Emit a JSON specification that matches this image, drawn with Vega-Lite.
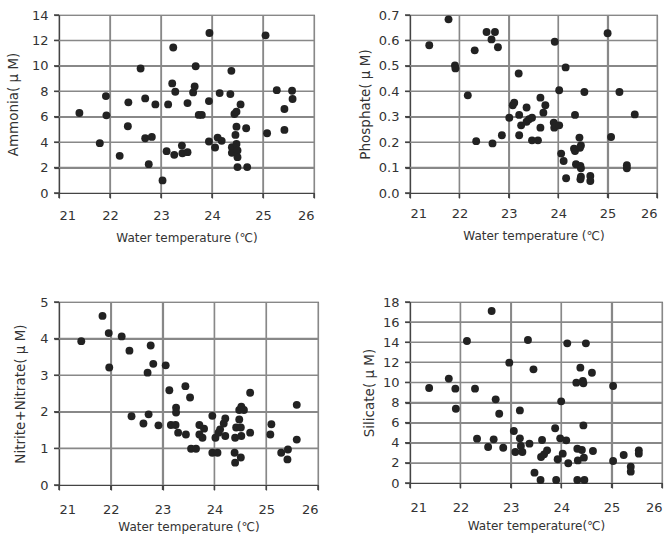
{
  "$schema": "https://vega.github.io/schema/vega-lite/v6.json",
  "background": "white",
  "padding": {"left": 6, "top": 8, "right": 5, "bottom": 5},
  "config": {
    "font": "DejaVu Sans",
    "view": {"stroke": "#444", "strokeWidth": 1.2},
    "axis": {
      "labelColor": "#333", "titleColor": "#333", "labelFontSize": 13, "titleFontSize": 12,
      "titleFontWeight": "normal", "tickSize": 5, "grid": true, "gridColor": "#888", "gridWidth": 1.2, "gridOpacity": 1,
      "tickColor": "#444", "tickWidth": 1.2, "domainColor": "#444", "domainWidth": 1.2
    },
    "axisX": {"labelPadding": 11, "titlePadding": 10, "titleFontSize": 12},
    "axisY": {"labelPadding": 6, "titleFontSize": 13.5},
    "point": {"filled": true, "color": "#222", "opacity": 1, "size": 62}
  },
  "datasets": {
    "xg": [{"g": 22}, {"g": 23}, {"g": 24}, {"g": 25}],
    "xt": [{"g": 21}, {"g": 22}, {"g": 23}, {"g": 24}, {"g": 25}, {"g": 26}],
    "ag": [{"g": 2}, {"g": 4}, {"g": 6}, {"g": 8}, {"g": 10}, {"g": 12}],
    "at": [{"g": 0}, {"g": 2}, {"g": 4}, {"g": 6}, {"g": 8}, {"g": 10}, {"g": 12}, {"g": 14}],
    "pg": [{"g": 0.1}, {"g": 0.2}, {"g": 0.3}, {"g": 0.4}, {"g": 0.5}, {"g": 0.6}],
    "pt": [{"g": 0}, {"g": 0.1}, {"g": 0.2}, {"g": 0.3}, {"g": 0.4}, {"g": 0.5}, {"g": 0.6}, {"g": 0.7}],
    "ng": [{"g": 1}, {"g": 2}, {"g": 3}, {"g": 4}],
    "nt": [{"g": 0}, {"g": 1}, {"g": 2}, {"g": 3}, {"g": 4}, {"g": 5}],
    "sg": [{"g": 2}, {"g": 4}, {"g": 6}, {"g": 8}, {"g": 10}, {"g": 12}, {"g": 14}, {"g": 16}],
    "st": [{"g": 0}, {"g": 2}, {"g": 4}, {"g": 6}, {"g": 8}, {"g": 10}, {"g": 12}, {"g": 14}, {"g": 16}, {"g": 18}],
    "ammonia": [
      {"t": 21.40, "v": 6.29}, {"t": 21.80, "v": 3.92}, {"t": 21.92, "v": 7.62}, {"t": 21.93, "v": 6.11},
      {"t": 22.19, "v": 2.92}, {"t": 22.35, "v": 5.25}, {"t": 22.36, "v": 7.13}, {"t": 22.60, "v": 9.79},
      {"t": 22.69, "v": 4.31}, {"t": 22.69, "v": 7.44}, {"t": 22.76, "v": 2.27}, {"t": 22.82, "v": 4.41},
      {"t": 22.89, "v": 6.97}, {"t": 23.03, "v": 0.99}, {"t": 23.11, "v": 3.29}, {"t": 23.14, "v": 6.97},
      {"t": 23.22, "v": 8.62}, {"t": 23.24, "v": 11.44}, {"t": 23.26, "v": 3.00}, {"t": 23.28, "v": 7.96},
      {"t": 23.41, "v": 3.73}, {"t": 23.42, "v": 3.13}, {"t": 23.52, "v": 7.07}, {"t": 23.52, "v": 3.21},
      {"t": 23.63, "v": 7.91}, {"t": 23.66, "v": 8.38}, {"t": 23.68, "v": 9.97}, {"t": 23.74, "v": 6.14},
      {"t": 23.80, "v": 6.14}, {"t": 23.94, "v": 7.23}, {"t": 23.95, "v": 12.58}, {"t": 23.94, "v": 4.05},
      {"t": 24.06, "v": 3.58}, {"t": 24.11, "v": 4.36}, {"t": 24.15, "v": 7.86}, {"t": 24.19, "v": 4.10},
      {"t": 24.36, "v": 7.78}, {"t": 24.38, "v": 9.61}, {"t": 24.39, "v": 3.60}, {"t": 24.39, "v": 3.16},
      {"t": 24.44, "v": 6.21}, {"t": 24.46, "v": 4.57}, {"t": 24.48, "v": 5.22}, {"t": 24.48, "v": 6.40},
      {"t": 24.48, "v": 3.86}, {"t": 24.50, "v": 3.34}, {"t": 24.50, "v": 2.82}, {"t": 24.50, "v": 2.04},
      {"t": 24.56, "v": 6.97}, {"t": 24.67, "v": 5.09}, {"t": 24.69, "v": 2.04}, {"t": 25.05, "v": 12.40},
      {"t": 25.08, "v": 4.70}, {"t": 25.27, "v": 8.09}, {"t": 25.42, "v": 6.61}, {"t": 25.42, "v": 4.96},
      {"t": 25.57, "v": 8.04}, {"t": 25.58, "v": 7.39}
    ],
    "phosphate": [
      {"t": 21.39, "v": 0.581}, {"t": 21.78, "v": 0.683}, {"t": 21.91, "v": 0.502}, {"t": 21.92, "v": 0.49},
      {"t": 22.17, "v": 0.384}, {"t": 22.31, "v": 0.561}, {"t": 22.34, "v": 0.204}, {"t": 22.55, "v": 0.633},
      {"t": 22.65, "v": 0.604}, {"t": 22.67, "v": 0.195}, {"t": 22.72, "v": 0.633}, {"t": 22.78, "v": 0.573},
      {"t": 22.86, "v": 0.227}, {"t": 23.01, "v": 0.296}, {"t": 23.08, "v": 0.345}, {"t": 23.11, "v": 0.355},
      {"t": 23.20, "v": 0.47}, {"t": 23.21, "v": 0.307}, {"t": 23.21, "v": 0.227}, {"t": 23.25, "v": 0.266},
      {"t": 23.36, "v": 0.336}, {"t": 23.36, "v": 0.280}, {"t": 23.41, "v": 0.290}, {"t": 23.47, "v": 0.296},
      {"t": 23.47, "v": 0.207}, {"t": 23.59, "v": 0.207}, {"t": 23.64, "v": 0.375}, {"t": 23.64, "v": 0.257},
      {"t": 23.70, "v": 0.316}, {"t": 23.74, "v": 0.345}, {"t": 23.93, "v": 0.595}, {"t": 23.91, "v": 0.277},
      {"t": 23.92, "v": 0.257}, {"t": 23.95, "v": 0.266}, {"t": 24.02, "v": 0.266}, {"t": 24.02, "v": 0.404},
      {"t": 24.06, "v": 0.155}, {"t": 24.11, "v": 0.126}, {"t": 24.15, "v": 0.494}, {"t": 24.16, "v": 0.058},
      {"t": 24.34, "v": 0.307}, {"t": 24.32, "v": 0.174}, {"t": 24.34, "v": 0.165}, {"t": 24.36, "v": 0.113},
      {"t": 24.43, "v": 0.218}, {"t": 24.44, "v": 0.178}, {"t": 24.46, "v": 0.187}, {"t": 24.45, "v": 0.106},
      {"t": 24.46, "v": 0.097}, {"t": 24.46, "v": 0.064}, {"t": 24.45, "v": 0.054}, {"t": 24.53, "v": 0.397},
      {"t": 24.65, "v": 0.067}, {"t": 24.65, "v": 0.047}, {"t": 25.00, "v": 0.628}, {"t": 25.07, "v": 0.220},
      {"t": 25.24, "v": 0.397}, {"t": 25.39, "v": 0.109}, {"t": 25.39, "v": 0.097}, {"t": 25.55, "v": 0.309}
    ],
    "nitrate": [
      {"t": 21.43, "v": 3.93}, {"t": 21.84, "v": 4.62}, {"t": 21.96, "v": 4.15}, {"t": 21.97, "v": 3.21},
      {"t": 22.21, "v": 4.06}, {"t": 22.36, "v": 3.67}, {"t": 22.40, "v": 1.88}, {"t": 22.63, "v": 1.68},
      {"t": 22.71, "v": 3.07}, {"t": 22.73, "v": 1.93}, {"t": 22.77, "v": 3.81}, {"t": 22.82, "v": 3.31},
      {"t": 22.92, "v": 1.63}, {"t": 23.06, "v": 3.27}, {"t": 23.13, "v": 2.59}, {"t": 23.16, "v": 1.64},
      {"t": 23.25, "v": 1.64}, {"t": 23.26, "v": 2.11}, {"t": 23.26, "v": 1.98}, {"t": 23.30, "v": 1.43},
      {"t": 23.44, "v": 2.70}, {"t": 23.45, "v": 1.38}, {"t": 23.53, "v": 2.39}, {"t": 23.55, "v": 0.99},
      {"t": 23.645, "v": 0.99}, {"t": 23.71, "v": 1.64}, {"t": 23.71, "v": 1.38}, {"t": 23.77, "v": 1.29},
      {"t": 23.80, "v": 1.54}, {"t": 23.96, "v": 1.89}, {"t": 23.96, "v": 0.88}, {"t": 24.06, "v": 0.88},
      {"t": 24.02, "v": 1.29}, {"t": 24.08, "v": 1.43}, {"t": 24.11, "v": 1.52}, {"t": 24.18, "v": 1.68},
      {"t": 24.21, "v": 1.82}, {"t": 24.21, "v": 1.34}, {"t": 24.39, "v": 0.88}, {"t": 24.40, "v": 0.61},
      {"t": 24.40, "v": 1.29}, {"t": 24.42, "v": 1.57}, {"t": 24.48, "v": 1.79}, {"t": 24.48, "v": 2.05},
      {"t": 24.51, "v": 1.57}, {"t": 24.51, "v": 0.75}, {"t": 24.52, "v": 2.14}, {"t": 24.52, "v": 1.34},
      {"t": 24.57, "v": 2.05}, {"t": 24.69, "v": 1.43}, {"t": 24.69, "v": 2.52}, {"t": 25.10, "v": 1.66},
      {"t": 25.08, "v": 1.38}, {"t": 25.29, "v": 0.88}, {"t": 25.42, "v": 0.97}, {"t": 25.41, "v": 0.70},
      {"t": 25.59, "v": 2.19}, {"t": 25.59, "v": 1.24}
    ],
    "silicate": [
      {"t": 21.38, "v": 9.45}, {"t": 21.77, "v": 10.38}, {"t": 21.90, "v": 9.38}, {"t": 21.91, "v": 7.39},
      {"t": 22.13, "v": 14.12}, {"t": 22.29, "v": 9.38}, {"t": 22.33, "v": 4.41}, {"t": 22.55, "v": 3.58},
      {"t": 22.62, "v": 17.10}, {"t": 22.66, "v": 4.34}, {"t": 22.70, "v": 8.32}, {"t": 22.77, "v": 6.89},
      {"t": 22.85, "v": 3.51}, {"t": 22.97, "v": 11.97}, {"t": 23.06, "v": 5.17}, {"t": 23.09, "v": 3.08},
      {"t": 23.18, "v": 7.22}, {"t": 23.18, "v": 4.44}, {"t": 23.20, "v": 3.68}, {"t": 23.23, "v": 3.08},
      {"t": 23.34, "v": 14.22}, {"t": 23.37, "v": 3.91}, {"t": 23.45, "v": 11.30}, {"t": 23.47, "v": 1.03},
      {"t": 23.59, "v": 0.30}, {"t": 23.62, "v": 4.28}, {"t": 23.60, "v": 2.59}, {"t": 23.66, "v": 2.85},
      {"t": 23.72, "v": 3.25}, {"t": 23.88, "v": 5.44}, {"t": 23.90, "v": 0.30}, {"t": 23.93, "v": 2.36},
      {"t": 23.98, "v": 4.44}, {"t": 24.00, "v": 8.12}, {"t": 24.03, "v": 2.92}, {"t": 24.10, "v": 4.24},
      {"t": 24.12, "v": 13.89}, {"t": 24.14, "v": 1.96}, {"t": 24.30, "v": 9.98}, {"t": 24.32, "v": 3.41},
      {"t": 24.32, "v": 0.30}, {"t": 24.33, "v": 2.25}, {"t": 24.38, "v": 11.47}, {"t": 24.41, "v": 3.28},
      {"t": 24.43, "v": 10.14}, {"t": 24.44, "v": 9.91}, {"t": 24.44, "v": 5.73}, {"t": 24.45, "v": 2.52},
      {"t": 24.46, "v": 0.30}, {"t": 24.49, "v": 13.89}, {"t": 24.63, "v": 3.18}, {"t": 24.61, "v": 10.97},
      {"t": 25.03, "v": 9.65}, {"t": 25.03, "v": 2.19}, {"t": 25.24, "v": 2.78}, {"t": 25.38, "v": 1.62},
      {"t": 25.38, "v": 1.13}, {"t": 25.54, "v": 3.25}, {"t": 25.54, "v": 2.92}
    ]
  },
  "spacing": 51,
  "vconcat": [
    {
      "bounds": "flush",
      "spacing": 96,
      "hconcat": [
        {
          "width": 255, "height": 178,
          "layer": [
            {"data": {"name": "xg"}, "mark": {"type": "point", "shape": "M-0.0084,-1H0.0084V1H-0.0084Z", "size": 31684, "filled": true, "color": "#888"},
             "encoding": {
               "x": {"field": "g", "type": "quantitative", "scale": {"domain": [21, 26], "nice": false, "zero": false}, "axis": {"values": [21, 22, 23, 24, 25, 26], "title": "Water temperature (℃)"}},
               "y": {"datum": 7, "type": "quantitative", "scale": {"domain": [0, 14], "nice": false}, "axis": {"values": [0, 2, 4, 6, 8, 10, 12, 14], "title": "Ammonia( μ M)", "titlePadding": 10.5}}}},
            {"data": {"name": "ag"}, "mark": {"type": "point", "shape": "M-1,-0.006H1V0.006H-1Z", "size": 65025, "filled": true, "color": "#888"},
             "encoding": {
               "x": {"datum": 23.5, "type": "quantitative", "scale": {"domain": [21, 26], "nice": false, "zero": false}, "axis": {"values": [21, 22, 23, 24, 25, 26], "title": "Water temperature (℃)"}},
               "y": {"field": "g", "type": "quantitative", "scale": {"domain": [0, 14], "nice": false}, "axis": {"values": [0, 2, 4, 6, 8, 10, 12, 14], "title": "Ammonia( μ M)", "titlePadding": 10.5}}}},
            {"data": {"name": "xt"}, "mark": {"type": "point", "shape": "M-0.15,0H0.15V1H-0.15Z", "size": 100, "filled": true, "color": "#444"},
             "encoding": {
               "x": {"field": "g", "type": "quantitative", "scale": {"domain": [21, 26], "nice": false, "zero": false}, "axis": {"values": [21, 22, 23, 24, 25, 26], "title": "Water temperature (℃)"}},
               "y": {"datum": 0, "type": "quantitative", "scale": {"domain": [0, 14], "nice": false}, "axis": {"values": [0, 2, 4, 6, 8, 10, 12, 14], "title": "Ammonia( μ M)", "titlePadding": 10.5}}}},
            {"data": {"name": "at"}, "mark": {"type": "point", "shape": "M-1,-0.15H0V0.15H-1Z", "size": 100, "filled": true, "color": "#444"},
             "encoding": {
               "x": {"datum": 21, "type": "quantitative", "scale": {"domain": [21, 26], "nice": false, "zero": false}, "axis": {"values": [21, 22, 23, 24, 25, 26], "title": "Water temperature (℃)"}},
               "y": {"field": "g", "type": "quantitative", "scale": {"domain": [0, 14], "nice": false}, "axis": {"values": [0, 2, 4, 6, 8, 10, 12, 14], "title": "Ammonia( μ M)", "titlePadding": 10.5}}}},
            {"data": {"name": "ammonia"}, "mark": {"type": "point"},
             "encoding": {
               "x": {"field": "t", "type": "quantitative", "scale": {"domain": [21, 26], "nice": false, "zero": false}, "axis": {"values": [21, 22, 23, 24, 25, 26], "title": "Water temperature (℃)"}},
               "y": {"field": "v", "type": "quantitative", "scale": {"domain": [0, 14], "nice": false}, "axis": {"values": [0, 2, 4, 6, 8, 10, 12, 14], "title": "Ammonia( μ M)", "titlePadding": 10.5}}}}
          ]
        },
        {
          "width": 247, "height": 178,
          "layer": [
            {"data": {"name": "xg"}, "mark": {"type": "point", "shape": "M-0.0084,-1H0.0084V1H-0.0084Z", "size": 31684, "filled": true, "color": "#888"},
             "encoding": {
               "x": {"field": "g", "type": "quantitative", "scale": {"domain": [21, 26], "nice": false, "zero": false}, "axis": {"values": [21, 22, 23, 24, 25, 26], "title": "Water temperature (℃)", "labelPadding": 9}},
               "y": {"datum": 0.35, "type": "quantitative", "scale": {"domain": [0, 0.7], "nice": false}, "axis": {"values": [0, 0.1, 0.2, 0.3, 0.4, 0.5, 0.6, 0.7], "format": ".1f", "title": "Phosphate( μ M)", "titlePadding": 6}}}},
            {"data": {"name": "pg"}, "mark": {"type": "point", "shape": "M-1,-0.006H1V0.006H-1Z", "size": 61009, "filled": true, "color": "#888"},
             "encoding": {
               "x": {"datum": 23.5, "type": "quantitative", "scale": {"domain": [21, 26], "nice": false, "zero": false}, "axis": {"values": [21, 22, 23, 24, 25, 26], "title": "Water temperature (℃)", "labelPadding": 9}},
               "y": {"field": "g", "type": "quantitative", "scale": {"domain": [0, 0.7], "nice": false}, "axis": {"values": [0, 0.1, 0.2, 0.3, 0.4, 0.5, 0.6, 0.7], "format": ".1f", "title": "Phosphate( μ M)", "titlePadding": 6}}}},
            {"data": {"name": "xt"}, "mark": {"type": "point", "shape": "M-0.15,0H0.15V1H-0.15Z", "size": 100, "filled": true, "color": "#444"},
             "encoding": {
               "x": {"field": "g", "type": "quantitative", "scale": {"domain": [21, 26], "nice": false, "zero": false}, "axis": {"values": [21, 22, 23, 24, 25, 26], "title": "Water temperature (℃)", "labelPadding": 9}},
               "y": {"datum": 0, "type": "quantitative", "scale": {"domain": [0, 0.7], "nice": false}, "axis": {"values": [0, 0.1, 0.2, 0.3, 0.4, 0.5, 0.6, 0.7], "format": ".1f", "title": "Phosphate( μ M)", "titlePadding": 6}}}},
            {"data": {"name": "pt"}, "mark": {"type": "point", "shape": "M-1,-0.15H0V0.15H-1Z", "size": 100, "filled": true, "color": "#444"},
             "encoding": {
               "x": {"datum": 21, "type": "quantitative", "scale": {"domain": [21, 26], "nice": false, "zero": false}, "axis": {"values": [21, 22, 23, 24, 25, 26], "title": "Water temperature (℃)", "labelPadding": 9}},
               "y": {"field": "g", "type": "quantitative", "scale": {"domain": [0, 0.7], "nice": false}, "axis": {"values": [0, 0.1, 0.2, 0.3, 0.4, 0.5, 0.6, 0.7], "format": ".1f", "title": "Phosphate( μ M)", "titlePadding": 6}}}},
            {"data": {"name": "phosphate"}, "mark": {"type": "point"},
             "encoding": {
               "x": {"field": "t", "type": "quantitative", "scale": {"domain": [21, 26], "nice": false, "zero": false}, "axis": {"values": [21, 22, 23, 24, 25, 26], "title": "Water temperature (℃)", "labelPadding": 9}},
               "y": {"field": "v", "type": "quantitative", "scale": {"domain": [0, 0.7], "nice": false}, "axis": {"values": [0, 0.1, 0.2, 0.3, 0.4, 0.5, 0.6, 0.7], "format": ".1f", "title": "Phosphate( μ M)", "titlePadding": 6}}}}
          ]
        }
      ]
    },
    {
      "bounds": "flush",
      "spacing": 92,
      "hconcat": [
        {
          "width": 259, "height": 183,
          "layer": [
            {"data": {"name": "xg"}, "mark": {"type": "point", "shape": "M-0.0082,-1H0.0082V1H-0.0082Z", "size": 33489, "filled": true, "color": "#888"},
             "encoding": {
               "x": {"field": "g", "type": "quantitative", "scale": {"domain": [21, 26], "nice": false, "zero": false}, "axis": {"values": [21, 22, 23, 24, 25, 26], "title": "Water temperature (℃)", "labelPadding": 13, "titlePadding": 5}},
               "y": {"datum": 2.5, "type": "quantitative", "scale": {"domain": [0, 5], "nice": false}, "axis": {"values": [0, 1, 2, 3, 4, 5], "title": "Nitrite+Nitrate( μ M)", "titlePadding": 12}}}},
            {"data": {"name": "ng"}, "mark": {"type": "point", "shape": "M-1,-0.006H1V0.006H-1Z", "size": 67081, "filled": true, "color": "#888"},
             "encoding": {
               "x": {"datum": 23.5, "type": "quantitative", "scale": {"domain": [21, 26], "nice": false, "zero": false}, "axis": {"values": [21, 22, 23, 24, 25, 26], "title": "Water temperature (℃)", "labelPadding": 13, "titlePadding": 5}},
               "y": {"field": "g", "type": "quantitative", "scale": {"domain": [0, 5], "nice": false}, "axis": {"values": [0, 1, 2, 3, 4, 5], "title": "Nitrite+Nitrate( μ M)", "titlePadding": 12}}}},
            {"data": {"name": "xt"}, "mark": {"type": "point", "shape": "M-0.15,0H0.15V1H-0.15Z", "size": 100, "filled": true, "color": "#444"},
             "encoding": {
               "x": {"field": "g", "type": "quantitative", "scale": {"domain": [21, 26], "nice": false, "zero": false}, "axis": {"values": [21, 22, 23, 24, 25, 26], "title": "Water temperature (℃)", "labelPadding": 13, "titlePadding": 5}},
               "y": {"datum": 0, "type": "quantitative", "scale": {"domain": [0, 5], "nice": false}, "axis": {"values": [0, 1, 2, 3, 4, 5], "title": "Nitrite+Nitrate( μ M)", "titlePadding": 12}}}},
            {"data": {"name": "nt"}, "mark": {"type": "point", "shape": "M-1,-0.15H0V0.15H-1Z", "size": 100, "filled": true, "color": "#444"},
             "encoding": {
               "x": {"datum": 21, "type": "quantitative", "scale": {"domain": [21, 26], "nice": false, "zero": false}, "axis": {"values": [21, 22, 23, 24, 25, 26], "title": "Water temperature (℃)", "labelPadding": 13, "titlePadding": 5}},
               "y": {"field": "g", "type": "quantitative", "scale": {"domain": [0, 5], "nice": false}, "axis": {"values": [0, 1, 2, 3, 4, 5], "title": "Nitrite+Nitrate( μ M)", "titlePadding": 12}}}},
            {"data": {"name": "nitrate"}, "mark": {"type": "point"},
             "encoding": {
               "x": {"field": "t", "type": "quantitative", "scale": {"domain": [21, 26], "nice": false, "zero": false}, "axis": {"values": [21, 22, 23, 24, 25, 26], "title": "Water temperature (℃)", "labelPadding": 13, "titlePadding": 5}},
               "y": {"field": "v", "type": "quantitative", "scale": {"domain": [0, 5], "nice": false}, "axis": {"values": [0, 1, 2, 3, 4, 5], "title": "Nitrite+Nitrate( μ M)", "titlePadding": 12}}}}
          ]
        },
        {
          "width": 252, "height": 181,
          "layer": [
            {"data": {"name": "xg"}, "mark": {"type": "point", "shape": "M-0.0083,-1H0.0083V1H-0.0083Z", "size": 32761, "filled": true, "color": "#888"},
             "encoding": {
               "x": {"field": "g", "type": "quantitative", "scale": {"domain": [21, 26], "nice": false, "zero": false}, "axis": {"values": [21, 22, 23, 24, 25, 26], "title": "Water temperature(℃)", "labelPadding": 13, "titlePadding": 6}},
               "y": {"datum": 9, "type": "quantitative", "scale": {"domain": [0, 18], "nice": false}, "axis": {"values": [0, 2, 4, 6, 8, 10, 12, 14, 16, 18], "title": "Silicate( μ M)", "titlePadding": 6}}}},
            {"data": {"name": "sg"}, "mark": {"type": "point", "shape": "M-1,-0.006H1V0.006H-1Z", "size": 63504, "filled": true, "color": "#888"},
             "encoding": {
               "x": {"datum": 23.5, "type": "quantitative", "scale": {"domain": [21, 26], "nice": false, "zero": false}, "axis": {"values": [21, 22, 23, 24, 25, 26], "title": "Water temperature(℃)", "labelPadding": 13, "titlePadding": 6}},
               "y": {"field": "g", "type": "quantitative", "scale": {"domain": [0, 18], "nice": false}, "axis": {"values": [0, 2, 4, 6, 8, 10, 12, 14, 16, 18], "title": "Silicate( μ M)", "titlePadding": 6}}}},
            {"data": {"name": "xt"}, "mark": {"type": "point", "shape": "M-0.15,0H0.15V1H-0.15Z", "size": 100, "filled": true, "color": "#444"},
             "encoding": {
               "x": {"field": "g", "type": "quantitative", "scale": {"domain": [21, 26], "nice": false, "zero": false}, "axis": {"values": [21, 22, 23, 24, 25, 26], "title": "Water temperature(℃)", "labelPadding": 13, "titlePadding": 6}},
               "y": {"datum": 0, "type": "quantitative", "scale": {"domain": [0, 18], "nice": false}, "axis": {"values": [0, 2, 4, 6, 8, 10, 12, 14, 16, 18], "title": "Silicate( μ M)", "titlePadding": 6}}}},
            {"data": {"name": "st"}, "mark": {"type": "point", "shape": "M-1,-0.15H0V0.15H-1Z", "size": 100, "filled": true, "color": "#444"},
             "encoding": {
               "x": {"datum": 21, "type": "quantitative", "scale": {"domain": [21, 26], "nice": false, "zero": false}, "axis": {"values": [21, 22, 23, 24, 25, 26], "title": "Water temperature(℃)", "labelPadding": 13, "titlePadding": 6}},
               "y": {"field": "g", "type": "quantitative", "scale": {"domain": [0, 18], "nice": false}, "axis": {"values": [0, 2, 4, 6, 8, 10, 12, 14, 16, 18], "title": "Silicate( μ M)", "titlePadding": 6}}}},
            {"data": {"name": "silicate"}, "mark": {"type": "point"},
             "encoding": {
               "x": {"field": "t", "type": "quantitative", "scale": {"domain": [21, 26], "nice": false, "zero": false}, "axis": {"values": [21, 22, 23, 24, 25, 26], "title": "Water temperature(℃)", "labelPadding": 13, "titlePadding": 6}},
               "y": {"field": "v", "type": "quantitative", "scale": {"domain": [0, 18], "nice": false}, "axis": {"values": [0, 2, 4, 6, 8, 10, 12, 14, 16, 18], "title": "Silicate( μ M)", "titlePadding": 6}}}}
          ]
        }
      ]
    }
  ]
}
